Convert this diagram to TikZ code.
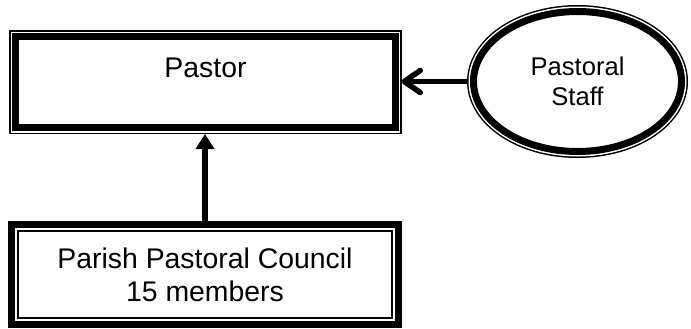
\documentclass[tikz,border=0pt]{standalone}
\usepackage{fontspec}
\setmainfont{Liberation Sans}
\usepackage{tikz}
\usetikzlibrary{positioning,arrows.meta,shapes.geometric}

\begin{document}
\begin{tikzpicture}[x=1bp,y=-1bp,
    % thin outer line, thick inner line
    thinthick/.style={draw, fill=white, line width=7bp,
      preaction={draw, line width=13bp},
      preaction={draw=white, line width=10bp},
      outer sep=6.5bp},
    % thick outer line, thin inner line
    thickthin/.style={draw, fill=white, line width=1.5bp,
      preaction={draw, line width=20bp},
      preaction={draw=white, line width=6bp},
      outer sep=10bp},
    conn/.style={line width=5.5bp}]
  % Page
  \fill[white] (0,0) rectangle (691,328);
  \useasboundingbox (0,0) rectangle (691,328);

  % --- Boxes ---
  \node[thinthick, minimum width=379bp, minimum height=91bp,
    text height=20bp, text depth=30bp,
    font=\fontsize{28.4bp}{34bp}\selectfont] (pastor) at (205.5,82) {Pastor};
  \node[thickthin, minimum width=374bp, minimum height=87bp, align=center,
    font=\fontsize{28.4bp}{33bp}\selectfont] (council) at (205,274.5)
    {Parish Pastoral Council\\15 members};

  % --- Staff ellipse ---
  \node[thinthick, ellipse, minimum width=208bp, minimum height=140bp,
    inner sep=0pt, align=center,
    font=\fontsize{25.6bp}{30bp}\selectfont] (staff) at (577.5,81.5)
    {Pastoral\\Staff};

  % --- Arrows ---
  \draw[conn, -{Triangle[length=15bp,width=18bp]}]
    (council.north) -- (council.north |- pastor.south);
  \draw[conn, -{Straight Barb[length=16bp,width=22bp,round]}]
    (staff.west) -- (pastor.east |- staff.west);
\end{tikzpicture}
\end{document}
